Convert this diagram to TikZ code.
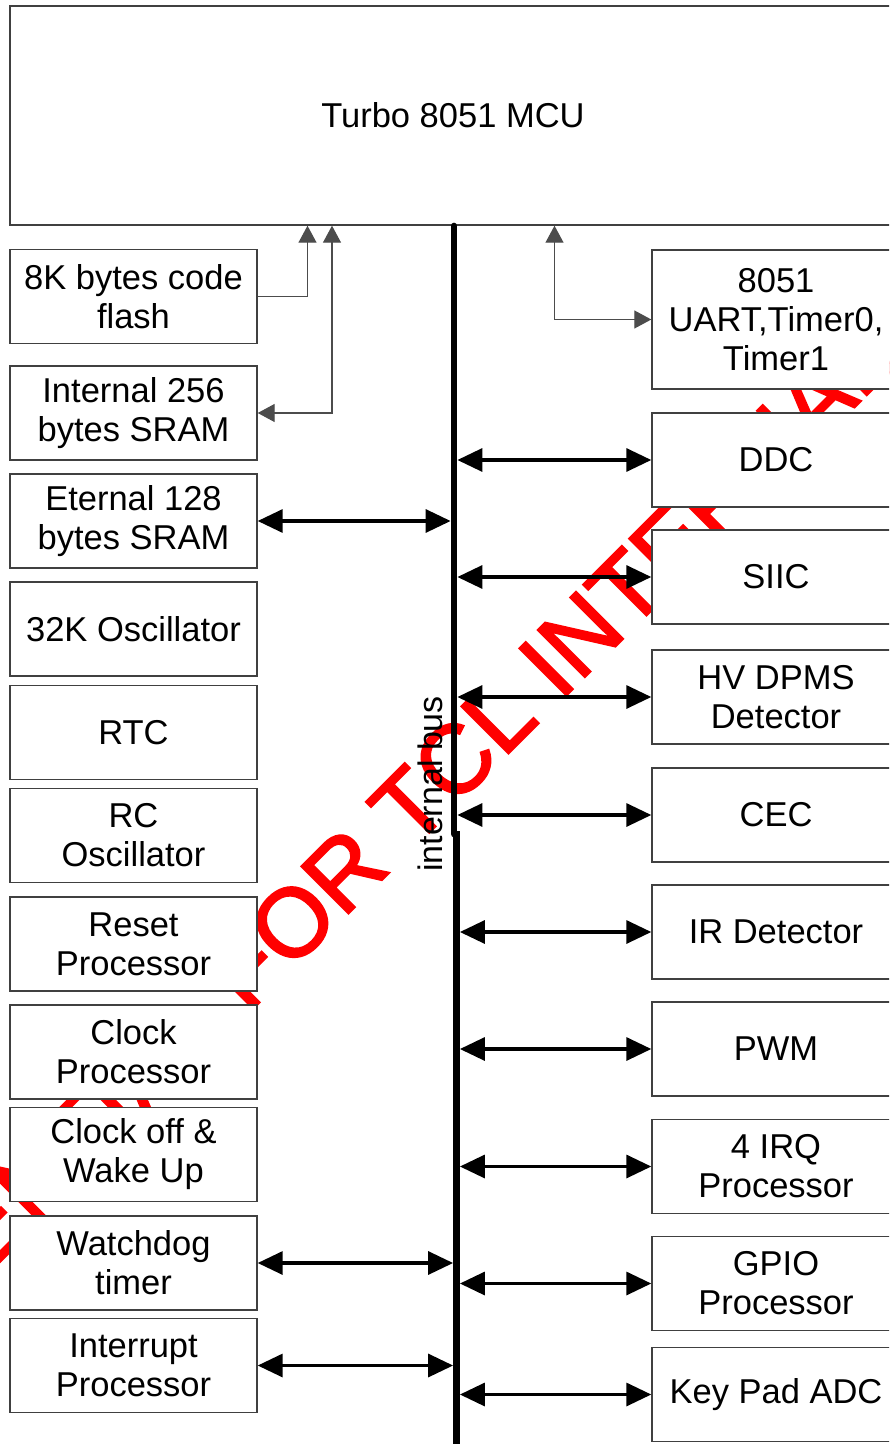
\documentclass[tikz,border=0pt]{standalone}
\usepackage{fontspec}
\setmainfont{Liberation Sans}
\newfontfamily\wmfont[FakeBold=2]{Liberation Sans}
\usetikzlibrary{arrows.meta}
\begin{document}
\begin{tikzpicture}[x=0.5pt,y=-0.5pt,
  blk/.style={draw=black!75, line width=0.7pt, fill=white, align=center, inner sep=0pt,
    minimum width=123.5pt, minimum height=47pt, font={\fontsize{17.25}{19.5}\selectfont}},
  rblk/.style={blk, minimum width=124pt},
  biarr/.style={line width=1.65pt, {Triangle[length=12.5pt,width=11.5pt]}-{Triangle[length=12.5pt,width=11.5pt]}},
  thinarr/.style={draw=black!70, line width=0.6pt, -{Triangle[length=8.5pt,width=9pt]}},
  thinbi/.style={draw=black!70, line width=0.6pt, {Triangle[length=8.5pt,width=9pt]}-{Triangle[length=8.5pt,width=9pt]}},
  busline/.style={line width=3.35pt},
  wmark/.style={text=red, rotate=45, anchor=base, inner sep=0pt, font={\wmfont\fontsize{48.5}{48}\selectfont}},
  buslabel/.style={rotate=90, anchor=base, inner sep=0pt, font={\fontsize{17}{19}\selectfont}}
]
\useasboundingbox (0,0) rectangle (889,1444);
\clip (0,0) rectangle (889,1444);
\fill[white] (0,0) rectangle (889,1444);

% watermark
\node[wmark] (wm) at (312.5,949.5) {CONFIDENTIAL FOR TCL INTERNAL};

% MCU
\node[blk, minimum width=443pt, minimum height=109.5pt] (mcu) at (453,115.5) {Turbo 8051 MCU};

% left column
\node[blk] (flash) at (133.5,296.5) {8K bytes code\\flash};
\node[blk] (isram) at (133.5,413) {Internal 256\\bytes SRAM};
\node[blk] (esram) at (133.5,521) {Eternal 128\\bytes SRAM};
\node[blk] (osc32) at (133.5,629) {32K Oscillator};
\node[blk] (rtc) at (133.5,732.5) {RTC};
\node[blk] (rcosc) at (133.5,835.5) {RC\\Oscillator};
\node[blk] (reset) at (133.5,944) {Reset\\Processor};
\node[blk] (clk) at (133.5,1052) {Clock\\Processor};
\node[blk] (wake) at (133.5,1154.5) {Clock off \&\\Wake Up};
\node[blk] (wdt) at (133.5,1263) {Watchdog\\timer};
\node[blk] (intp) at (133.5,1365.5) {Interrupt\\Processor};

% right column
\node[rblk, minimum height=69.5pt] (uart) at (776,319.5) {8051\\UART,Timer0,\\Timer1};
\node[rblk] (ddc) at (776,460) {DDC};
\node[rblk] (siic) at (776,577) {SIIC};
\node[rblk] (hv) at (776,697) {HV DPMS\\Detector};
\node[rblk] (cec) at (776,815) {CEC};
\node[rblk] (ir) at (776,932) {IR Detector};
\node[rblk] (pwm) at (776,1049) {PWM};
\node[rblk] (irq) at (776,1166.5) {4 IRQ\\Processor};
\node[rblk] (gpio) at (776,1283.5) {GPIO\\Processor};
\node[rblk] (kpad) at (776,1394.5) {Key Pad ADC};

% bus
\coordinate (bt) at (454,226);
\coordinate (bj) at (454,834);
\coordinate (bj2) at (456.5,831);
\coordinate (bb) at (456.5,1450);
\draw[busline, line cap=round] (bt) -- (bj);
\draw[busline] (bj2) -- (bb);
\coordinate (bRt) at (457.4,0);
\coordinate (bRb) at (459.9,0);
\coordinate (bLt) at (450.6,0);
\coordinate (bLb) at (453.1,0);

% bus arrows
\draw[biarr] (esram.east) -- (bLt |- esram.east);
\draw[biarr] (wdt.east) -- (bLb |- wdt.east);
\draw[biarr] (intp.east) -- (bLb |- intp.east);
\draw[biarr] (bRt |- ddc.west) -- (ddc.west);
\draw[biarr] (bRt |- siic.west) -- (siic.west);
\draw[biarr] (bRt |- hv.west) -- (hv.west);
\draw[biarr] (bRt |- cec.west) -- (cec.west);
\draw[biarr] (bRb |- ir.west) -- (ir.west);
\draw[biarr] (bRb |- pwm.west) -- (pwm.west);
\draw[biarr] (bRb |- irq.west) -- (irq.west);
\draw[biarr] (bRb |- gpio.west) -- (gpio.west);
\draw[biarr] (bRb |- kpad.west) -- (kpad.west);

% thin connectors to MCU
\coordinate (j1) at (307.5,0);
\coordinate (j2) at (332,0);
\coordinate (j3) at (554.5,0);
\draw[thinarr] (flash.east) -| (j1 |- mcu.south);
\draw[thinbi] (j2 |- mcu.south) |- (isram.east);
\draw[thinbi] (j3 |- mcu.south) |- (uart.west);

% bus label
\node[buslabel] (lbl) at (442,784) {internal bus};
\end{tikzpicture}
\end{document}
